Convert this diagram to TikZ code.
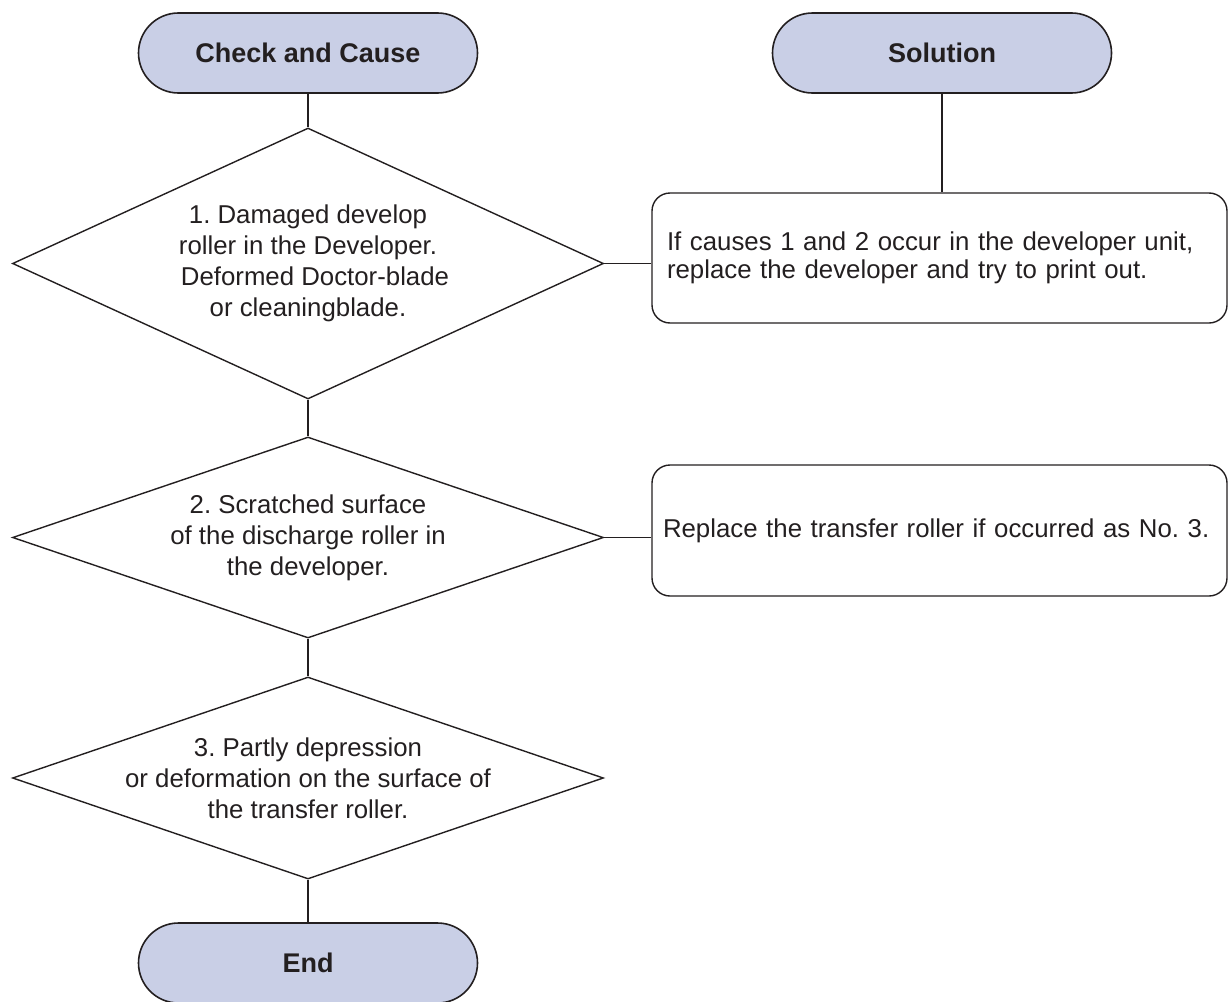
\documentclass[tikz,border=0pt]{standalone}
\usepackage{fontspec}
\setmainfont{Liberation Sans}
\usetikzlibrary{shapes.geometric}
\definecolor{termfill}{RGB}{201,207,230}
\definecolor{ink}{RGB}{35,31,32}
\frenchspacing
\begin{document}
\begin{tikzpicture}[x=1pt,y=-1pt,
  term/.style={draw=ink, line width=1.6pt, fill=termfill, rounded corners=40pt,
    minimum width=339pt, minimum height=80pt, inner sep=0pt,
    font=\fontsize{27}{32}\selectfont\bfseries, text=ink},
  dia/.style={draw=ink, line width=1.4pt, diamond, minimum width=591pt, inner sep=0pt},
  ctext/.style={align=center, font=\fontsize{25.8}{31}\selectfont, text=ink, inner sep=0pt},
  solbox/.style={draw=ink, line width=1.4pt, rounded corners=18pt,
    minimum width=575pt, minimum height=130pt, inner xsep=11pt, inner ysep=16pt,
    text width=553pt, align=left, font=\fontsize{25.8}{28}\selectfont, text=ink},
  link/.style={draw=ink, line width=1.4pt}]
\useasboundingbox (0,0) rectangle (1228,1001);
% terminals
\node[term] (check) at (308,53) {Check and Cause};
\node[term] (solution) at (942,53) {Solution};
\node[term] (end) at (308,963) {End};
% diamonds
\node[dia, minimum height=271pt] (d1) at (308,263.5) {};
\node[dia, minimum height=201pt] (d2) at (308,537.5) {};
\node[dia, minimum height=202pt] (d3) at (308,778) {};
\node[ctext] (t1) at (d1) {1. Damaged develop\\roller in the Developer.\\\hspace*{14pt}Deformed Doctor-blade\\or cleaningblade.};
\node[ctext] (t2) at (d2) {2. Scratched surface\\of the discharge roller in\\the developer.};
\node[ctext] (t3) at (d3) {3. Partly depression\\or deformation on the surface of\\the transfer roller.};
% solution boxes
\node[solbox] (s1) at (939.5,258) {\hspace*{4pt}If causes 1 and 2 occur in the developer unit,\\\hspace*{4pt}replace the developer and try to print out.};
\node[solbox, minimum height=131pt] (s2) at (939.5,530.5) {Replace the transfer roller if occurred as No. 3.};
% connectors
\draw[link] (check.south) -- (d1.north);
\draw[link] (d1.south) -- (d2.north);
\draw[link] (d2.south) -- (d3.north);
\draw[link] (d3.south) -- (end.north);
\draw[link] (solution.south) -- (solution.south |- s1.north);
\draw[link] (d1.east) -- (d1.east -| s1.west);
\draw[link] (d2.east) -- (d2.east -| s2.west);
\end{tikzpicture}
\end{document}
